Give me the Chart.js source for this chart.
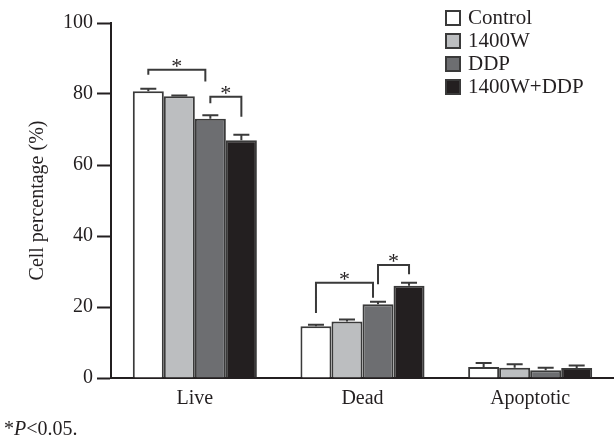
<!DOCTYPE html>
<html>
<head>
<meta charset="utf-8">
<script src="https://cdn.jsdelivr.net/npm/chart.js@4"></script>
<style>
  body { margin: 0; background: #fff; }
  .wrap { position: relative; width: 614px; height: 442px; font-family: 'Liberation Serif', 'Times New Roman', serif; color: #231f20; }
  #legend { position: absolute; left: 445px; top: 6px; }
  .leg-row { display: flex; align-items: center; height: 23px; font-size: 21px; }
  .leg-box { width: 12px; height: 12px; border: 2px solid #3a3a3a; margin-right: 7px; }
  #note { position: absolute; left: 4px; top: 417px; font-size: 20px; }
</style>
</head>
<body>
<div class="wrap">
  <canvas id="main-chart" width="614" height="442"></canvas>
  <div id="legend"></div>
  <div id="note">*<i>P</i>&lt;0.05.</div>
</div>
<script>
const categories = ['Live', 'Dead', 'Apoptotic'];
const seriesNames = ['Control', '1400W', 'DDP', '1400W+DDP'];
const seriesColors = ['#ffffff', '#bcbec0', '#6d6e71', '#231f20'];

const control = [80.8, 14.6, 3.1];
const w1400 = [79.4, 15.9, 2.9];
const ddp = [73.0, 20.8, 2.2];
const combo = [67.0, 26.0, 2.8];

const controlErr = [0.7, 0.4, 1.1];
const w1400Err = [0.2, 0.6, 1.0];
const ddpErr = [1.0, 0.7, 0.7];
const comboErr = [1.5, 0.8, 0.7];

const yTicks = [0, 20, 40, 60, 80, 100];

// significance brackets: category, from series, to series, top and leg ends
const sigCategory = [0, 0, 1, 1];
const sigFrom = [0, 2, 0, 2];
const sigTo = [2, 3, 2, 3];
const sigTop = [86.8, 79.2, 26.8, 31.8];
const sigLeftEnd = [85.4, 77.4, 18.3, 26.4];
const sigRightEnd = [83.5, 73.6, 22.6, 29.2];

const allValues = [control, w1400, ddp, combo];
const allErrors = [controlErr, w1400Err, ddpErr, comboErr];

const ink = '#231f20';
const lineInk = '#3a3a3a';
const serif = "'Liberation Serif', 'Times New Roman', serif";

document.getElementById('legend').innerHTML = seriesNames.map((n, i) => `
  <div class="leg-row"><div class="leg-box" style="background:${seriesColors[i]}"></div>${n}</div>`).join('');

const extras = {
  id: 'extras',
  afterDatasetsDraw(chart) {
    const ctx = chart.ctx;
    const y = chart.scales.y;
    ctx.save();
    ctx.strokeStyle = lineInk;
    ctx.lineWidth = 2;
    // error bars (upper only)
    allValues.forEach((vals, i) => {
      const meta = chart.getDatasetMeta(i);
      vals.forEach((v, j) => {
        const bar = meta.data[j];
        const yTop = y.getPixelForValue(v + allErrors[i][j]);
        ctx.beginPath();
        ctx.moveTo(bar.x, bar.y);
        ctx.lineTo(bar.x, yTop);
        ctx.moveTo(bar.x - 8, yTop);
        ctx.lineTo(bar.x + 8, yTop);
        ctx.stroke();
      });
    });
    // brackets
    ctx.fillStyle = ink;
    ctx.font = '22px ' + serif;
    ctx.textAlign = 'center';
    ctx.textBaseline = 'alphabetic';
    sigCategory.forEach((c, k) => {
      const x1 = chart.getDatasetMeta(sigFrom[k]).data[c].x;
      const x2 = chart.getDatasetMeta(sigTo[k]).data[c].x - (sigFrom[k] === 0 ? 5 : 0);
      const yt = y.getPixelForValue(sigTop[k]);
      ctx.beginPath();
      ctx.moveTo(x1, y.getPixelForValue(sigLeftEnd[k]));
      ctx.lineTo(x1, yt);
      ctx.lineTo(x2, yt);
      ctx.lineTo(x2, y.getPixelForValue(sigRightEnd[k]));
      ctx.stroke();
      ctx.fillText('*', (x1 + x2) / 2, yt + 3);
    });
    ctx.restore();
  }
};

new Chart(document.getElementById('main-chart'), {
  type: 'bar',
  data: {
    labels: categories,
    datasets: allValues.map((vals, i) => ({
      label: seriesNames[i],
      data: vals,
      backgroundColor: seriesColors[i],
      borderColor: lineInk,
      borderWidth: 2,
      borderSkipped: 'bottom',
      categoryPercentage: 0.74,
      barPercentage: 1
    }))
  },
  options: {
    responsive: false,
    animation: false,
    layout: { padding: { top: 23, right: 0, left: 0, bottom: 0 } },
    plugins: { legend: { display: false }, tooltip: { enabled: false } },
    scales: {
      x: {
        grid: { display: false, drawTicks: false },
        border: { display: true, width: 2, color: ink },
        ticks: { color: ink, padding: 9, font: { family: serif, size: 20 } },
        afterFit: s => { s.height = 64; }
      },
      y: {
        min: 0,
        max: 100,
        afterBuildTicks: s => { s.ticks = yTicks.map(v => ({ value: v })); },
        grid: { drawOnChartArea: false, drawTicks: true, tickLength: 14, tickWidth: 2, tickColor: ink },
        border: { display: true, width: 2, color: ink },
        ticks: { color: ink, padding: 4, font: { family: serif, size: 20 } },
        title: { display: true, text: 'Cell percentage (%)', color: ink, font: { family: serif, size: 20 }, padding: { top: 26, bottom: 0 } },
        afterFit: s => { s.width = 111; }
      }
    }
  },
  plugins: [extras]
});
</script>
</body>
</html>
